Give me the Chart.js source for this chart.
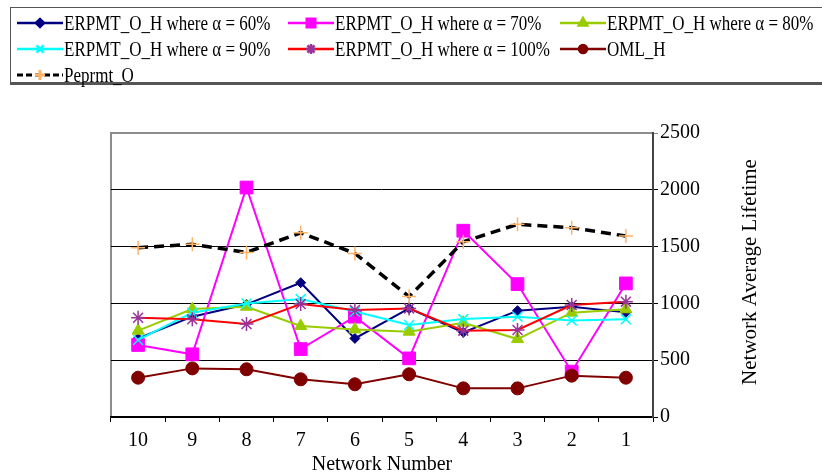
<!DOCTYPE html>
<html>
<head>
<meta charset="utf-8">
<script src="https://cdn.jsdelivr.net/npm/chart.js@4.4.0/dist/chart.umd.min.js"></script>
<style>
  body { margin: 0; background: #fff; }
  #wrap { position: relative; width: 822px; height: 475px; overflow: hidden; font-family: "Liberation Serif", "Times New Roman", serif; }
  #legend { position: absolute; left: 10px; top: 7px; width: 840px; height: 74px; border: 1px solid #555; border-bottom: 3px solid #555; }
  .item { position: absolute; height: 22px; display: flex; align-items: center; white-space: nowrap; color: #000; }
  .item canvas { margin-right: 1px; }
  .item span { display: inline-block; font-family: "Liberation Serif", "Times New Roman", serif; font-size: 20px; transform: scaleX(0.85); transform-origin: 0 50%; }
  #chart { position: absolute; left: 0; top: 0; }
</style>
</head>
<body>
<div id="wrap">
  <canvas id="chart" width="822" height="475"></canvas>
  <div id="legend"></div>
</div>
<script>
const networks = ['10', '9', '8', '7', '6', '5', '4', '3', '2', '1'];
const alpha60 = [692, 883, 992, 1182, 692, 956, 745, 936, 971, 921];
const alpha70 = [634, 552, 2020, 598, 883, 516, 1640, 1170, 399, 1176];
const alpha80 = [760, 950, 971, 801, 771, 751, 830, 686, 918, 948];
const alpha90 = [678, 918, 1000, 1038, 928, 810, 862, 883, 850, 860];
const alpha100 = [874, 860, 818, 994, 942, 956, 760, 766, 986, 1015];
const omlH = [346, 428, 420, 332, 288, 376, 252, 252, 364, 346];
const peprmtO = [1490, 1520, 1449, 1622, 1440, 1060, 1543, 1696, 1666, 1593];
const yTicks = [0, 500, 1000, 1500, 2000, 2500];

const serif = '"Liberation Serif", "Times New Roman", serif';

const series = [
  { label: 'ERPMT_O_H where α = 60%', data: alpha60, line: '#000080', mark: '#000080', style: 'rectRot', r: 5, lr: 4 },
  { label: 'ERPMT_O_H where α = 70%', data: alpha70, line: '#FF00FF', mark: '#FF00FF', style: 'rect', r: 9, lr: 6 },
  { label: 'ERPMT_O_H where α = 80%', data: alpha80, line: '#99CC00', mark: '#99CC00', style: 'triangle', r: 7, lr: 5 },
  { label: 'ERPMT_O_H where α = 90%', data: alpha90, line: '#00FFFF', mark: '#00FFFF', style: 'crossRot', r: 7, lr: 5 },
  { label: 'ERPMT_O_H where α = 100%', data: alpha100, line: '#FF0000', mark: '#993399', style: 'star', r: 7, lr: 5 },
  { label: 'OML_H', data: omlH, line: '#800000', mark: '#800000', style: 'circle', r: 6.5, lr: 4 },
  { label: 'Peprmt_O', data: peprmtO, line: '#000000', mark: '#FFB366', style: 'cross', r: 7, lr: 5, dash: [10, 6], width: 3.5 }
];

const datasets = series.map((s, i) => ({
  label: s.label,
  data: s.data,
  borderColor: s.line,
  backgroundColor: s.mark,
  borderWidth: s.width || 2,
  borderDash: s.dash || [],
  pointStyle: s.style,
  pointRadius: s.r,
  pointBorderColor: s.mark,
  pointBackgroundColor: s.mark,
  pointBorderWidth: (s.style === 'cross' || s.style === 'crossRot' || s.style === 'star') ? 1.5 : 1,
  tension: 0,
  order: series.length - i
}));

// grey frame on left/top of the plot, and the rotated y title
const framePlugin = {
  id: 'frame',
  beforeDraw(chart) {
    const a = chart.chartArea;
    const ctx = chart.ctx;
    ctx.save();
    ctx.strokeStyle = '#8c8c8c';
    ctx.lineWidth = 2;
    ctx.strokeRect(a.left, a.top, a.right - a.left, a.bottom - a.top);
    ctx.restore();
  },
  afterDraw(chart) {
    const ctx = chart.ctx;
    ctx.save();
    ctx.translate(750, 272);
    ctx.rotate(-Math.PI / 2);
    ctx.font = '21px ' + serif;
    ctx.fillStyle = '#000';
    ctx.textAlign = 'center';
    ctx.textBaseline = 'middle';
    ctx.fillText('Network Average Lifetime', 0, 0);
    ctx.restore();
  }
};

new Chart(document.getElementById('chart').getContext('2d'), {
  type: 'line',
  data: { labels: networks, datasets: datasets },
  options: {
    responsive: false,
    animation: false,
    layout: { padding: { top: 133, left: 111, right: 0, bottom: 0 } },
    plugins: { legend: { display: false }, tooltip: { enabled: false } },
    scales: {
      x: {
        offset: true,
        grid: { drawOnChartArea: false, tickLength: 5, color: '#000', offset: true },
        border: { color: '#000', width: 1.5 },
        ticks: { color: '#000', font: { family: serif, size: 20 }, padding: 7, maxRotation: 0 },
        title: { display: true, text: 'Network Number', color: '#000', font: { family: serif, size: 20, lineHeight: 1 }, padding: 0 },
        afterFit(scale) { scale.height = 58; }
      },
      y: {
        position: 'right',
        min: 0,
        max: 2500,
        afterBuildTicks(scale) { scale.ticks = yTicks.map(v => ({ value: v })); },
        grid: {
          tickLength: 5,
          color: ctx => (ctx.tick && ctx.tick.value === 2500) ? '#8c8c8c' : '#000',
          lineWidth: 1
        },
        border: { color: '#444', width: 2 },
        ticks: { color: '#000', font: { family: serif, size: 20 }, padding: 2, callback: v => String(v) },
        afterFit(scale) { scale.width = 169; }
      }
    }
  },
  plugins: [framePlugin]
});

// legend, laid out as in the reference
const slots = [[17, 23], [288, 23], [560, 23], [17, 49], [288, 49], [560, 49], [17, 75]];
const wrap = document.getElementById('wrap');
series.forEach((s, i) => {
  const item = document.createElement('div');
  item.className = 'item';
  item.style.left = slots[i][0] + 'px';
  item.style.top = (slots[i][1] - 11) + 'px';
  const c = document.createElement('canvas');
  c.width = 46; c.height = 16;
  const g = c.getContext('2d');
  g.strokeStyle = s.line;
  g.lineWidth = s.width ? 3 : 2.5;
  g.setLineDash(s.dash ? [6, 3] : []);
  g.beginPath(); g.moveTo(0, 8); g.lineTo(46, 8); g.stroke();
  g.setLineDash([]);
  g.fillStyle = s.mark;
  g.strokeStyle = s.mark;
  Chart.helpers.drawPoint(g, { pointStyle: s.style, radius: s.lr, rotation: 0, borderWidth: 1.2 }, 23, 8);
  item.appendChild(c);
  const t = document.createElement('span');
  t.textContent = s.label;
  item.appendChild(t);
  wrap.appendChild(item);
});
</script>
</body>
</html>
